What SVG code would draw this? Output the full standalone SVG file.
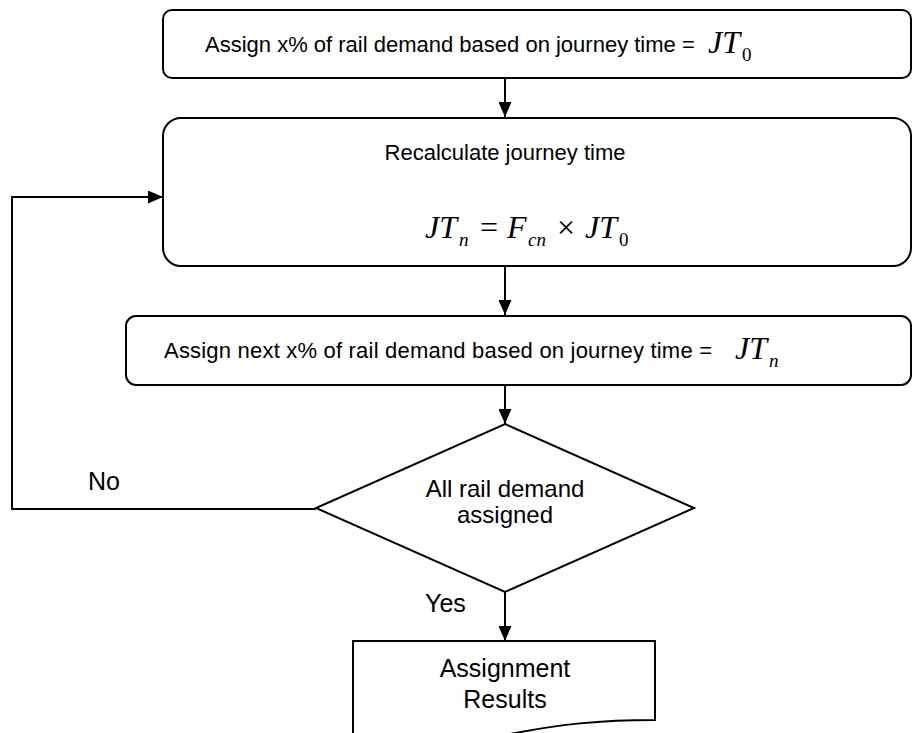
<svg xmlns="http://www.w3.org/2000/svg" width="916" height="733" viewBox="0 0 916 733">
<style>
.box{fill:#fff;stroke:#000;stroke-width:2}
.ln{fill:none;stroke:#000;stroke-width:2}
.t{font-family:"Liberation Sans",Arial,sans-serif;font-size:22px;fill:#000}
.l{font-family:"Liberation Sans",Arial,sans-serif;font-size:25px;fill:#000}
.d{font-family:"Liberation Sans",Arial,sans-serif;font-size:24px;fill:#000}
.m{font-family:"Liberation Serif","Times New Roman",serif;font-style:italic;font-size:32px;fill:#000}
.o{font-family:"Liberation Serif","Times New Roman",serif;font-size:32px;fill:#000}
.s{font-family:"Liberation Serif","Times New Roman",serif;font-size:19px;fill:#000}
.si{font-family:"Liberation Serif","Times New Roman",serif;font-style:italic;font-size:19px;fill:#000}
</style>
<defs>
<marker id="ah" viewBox="0 0 15 13" refX="15" refY="6.5" markerWidth="15" markerHeight="13" markerUnits="userSpaceOnUse" orient="auto">
<path d="M0,0 L15,6.5 L0,13 Z" fill="#000"/>
</marker>
</defs>
<g id="connectors">
<line class="ln" x1="505" y1="78" x2="505" y2="117" marker-end="url(#ah)"/>
<line class="ln" x1="505" y1="266" x2="505" y2="315" marker-end="url(#ah)"/>
<line class="ln" x1="505" y1="385" x2="505" y2="424" marker-end="url(#ah)"/>
<line class="ln" x1="505" y1="592" x2="505" y2="641" marker-end="url(#ah)"/>
<polyline class="ln" points="316,509 12,509 12,197 163,197" marker-end="url(#ah)"/>
<text class="l" x="88" y="490">No</text>
<text class="l" x="425" y="612">Yes</text>
</g>
<g id="node1">
<rect class="box" x="163" y="10" width="748" height="68" rx="9"/>
<text class="t" x="205" y="52">Assign x% of rail demand based on journey time =</text>
<text class="m" x="708" y="53">JT</text><text class="s" x="742" y="61">0</text>
</g>
<g id="node2">
<rect class="box" x="163" y="118" width="748" height="148" rx="18"/>
<text class="t" x="505" y="160" text-anchor="middle">Recalculate journey time</text>
<text class="m" x="425" y="238">JT</text><text class="si" x="459" y="246">n</text>
<text class="o" x="480" y="238">=</text>
<text class="m" x="507" y="238">F</text><text class="si" x="528" y="246">cn</text>
<text class="o" x="557" y="238">×</text>
<text class="m" x="585" y="238">JT</text><text class="s" x="619" y="246">0</text>
</g>
<g id="node3">
<rect class="box" x="126" y="316" width="785" height="69" rx="10"/>
<text class="t" x="164" y="358" textLength="548" lengthAdjust="spacing">Assign next x% of rail demand based on journey time =</text>
<text class="m" x="735" y="359">JT</text><text class="si" x="769" y="367">n</text>
</g>
<g id="decision">
<polygon class="box" points="505,424 694,508 505,592 316,508"/>
<text class="d" x="505" y="497" text-anchor="middle">All rail  demand</text>
<text class="d" x="505" y="523" text-anchor="middle">assigned</text>
</g>
<g id="results">
<path class="box" d="M353,745 L353,641 L655,641 L655,720 C600,720 560,724 505,735 L353,745 Z"/>
<text class="l" x="505" y="677" text-anchor="middle">Assignment</text>
<text class="l" x="505" y="708" text-anchor="middle">Results</text>
</g>
</svg>
